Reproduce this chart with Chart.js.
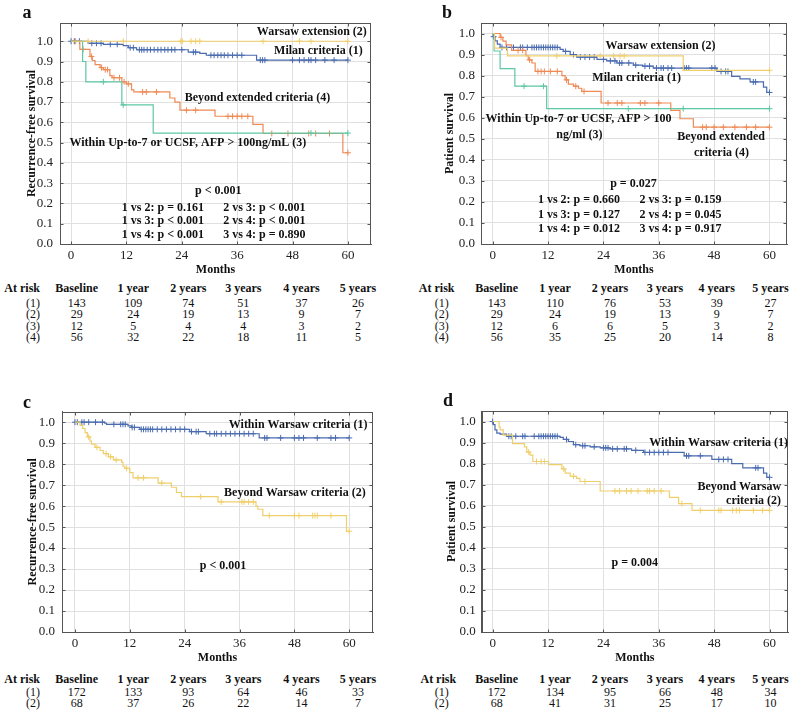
<!DOCTYPE html>
<html>
<head>
<meta charset="utf-8">
<script src="https://cdn.jsdelivr.net/npm/chart.js@4.4.1/dist/chart.umd.min.js"></script>
<style>
body { margin:0; background:#fff; width:793px; height:712px; position:relative; overflow:hidden; font-family:'Liberation Serif','Times New Roman',serif; color:#111; }
canvas { position:absolute; }
.t { position:absolute; font-size:12px; white-space:nowrap; transform:translate(-50%,-50%); line-height:1; }
.b { font-weight:bold; }
.letter { position:absolute; font-weight:bold; font-size:18px; transform:translate(-50%,-50%); line-height:1; }
</style>
</head>
<body>
<canvas id="cA" width="395" height="278" style="left:0;top:0"></canvas>
<canvas id="cB" width="393" height="278" style="left:400px;top:0"></canvas>
<canvas id="cC" width="395" height="281" style="left:0;top:385px"></canvas>
<canvas id="cD" width="393" height="281" style="left:400px;top:385px"></canvas>
<div class="letter" style="left:27px;top:12px">a</div>
<div class="letter" style="left:447px;top:12px">b</div>
<div class="letter" style="left:27px;top:402px">c</div>
<div class="letter" style="left:448px;top:400px">d</div>
<script>
var monthTicks = [0, 12, 24, 36, 48, 60];
var survTicks = [0, 0.1, 0.2, 0.3, 0.4, 0.5, 0.6, 0.7, 0.8, 0.9, 1.0];
var yearCols = ["Baseline", "1 year", "2 years", "3 years", "4 years", "5 years"];
var groupLabels = ["(1)", "(2)", "(3)", "(4)"];

// panel a - recurrence-free survival, 4 groups
var aMilanT = [0, 3.7, 7.0, 11.3, 12.4, 14.2, 25.4, 27.9, 29.3, 40.2, 60];
var aMilanS = [1, 0.99, 0.985, 0.978, 0.968, 0.958, 0.946, 0.94, 0.931, 0.907, 0.907];
var aMilanC = [0, 0.7, 1.8, 4.5, 5.5, 6.5, 8.5, 10, 12.8, 13.5, 14.8, 15.3, 15.8, 16.5, 17.2, 18, 18.8, 19.5, 20.3, 21, 21.8, 22.5, 24, 26.5, 27, 30.3, 31, 31.8, 32.5, 33.2, 34, 35, 36, 37, 41, 41.5, 42, 48, 49.5, 50.5, 51.5, 52, 53, 55, 57, 60];
var aWarsawT = [0, 60];
var aWarsawS = [1, 1];
var aWarsawC = [3.7, 11.3, 23.8, 24.1, 26, 27, 27.9, 41.6, 49.5, 52, 60];
var aUpT = [0, 2.5, 3.2, 11.0, 17.8, 60];
var aUpS = [1, 0.9, 0.8, 0.686, 0.547, 0.547];
var aUpC = [7.0, 11.3, 52, 60];
var aBeyondT = [0, 1.9, 4.1, 4.6, 5.2, 6.3, 7.0, 8.4, 8.9, 11.0, 12.0, 13.1, 13.6, 21.4, 22.5, 23.6, 31.2, 39.4, 41.6, 58.9, 60];
var aBeyondS = [1, 0.96, 0.925, 0.905, 0.885, 0.87, 0.86, 0.83, 0.82, 0.80, 0.79, 0.76, 0.75, 0.72, 0.70, 0.66, 0.63, 0.59, 0.545, 0.45, 0.45];
var aBeyondC = [1.0, 2.6, 4.4, 6.6, 7.4, 7.9, 9.3, 10.5, 11.5, 12.4, 15.5, 16.3, 18.5, 25, 27, 34, 35, 36, 37, 38.3, 43.5, 47, 51.5, 53, 56, 60];
var riskA = [[143, 109, 74, 51, 37, 26], [29, 24, 19, 13, 9, 7], [12, 5, 4, 4, 3, 2], [56, 32, 22, 18, 11, 5]];

// panel b - patient survival, 4 groups
var bMilanT = [0, 0.1, 0.5, 1.0, 1.6, 14.6, 15.3, 16.8, 18.2, 22.6, 24.7, 26.9, 30.5, 32.5, 34.8, 48.6, 51.8, 53.6, 55.8, 58.7, 59.4, 60];
var bMilanS = [1, 0.985, 0.965, 0.95, 0.934, 0.925, 0.915, 0.90, 0.888, 0.877, 0.87, 0.86, 0.85, 0.845, 0.836, 0.82, 0.796, 0.785, 0.77, 0.745, 0.72, 0.72];
var bMilanC = [0.2, 2, 3, 4.5, 6, 6.5, 7.5, 8.5, 9, 9.5, 10, 10.5, 11, 11.5, 12, 12.5, 13, 13.5, 14, 15.8, 17.5, 19, 20, 21, 22, 24, 25.5, 26.5, 27.5, 28, 29.5, 31, 33, 34, 35.5, 36.5, 37, 38, 38.8, 41.5, 42, 42.5, 47.5, 48.2, 49.5, 50.5, 51, 56.5, 57, 60];
var bWarsawT = [0, 0.4, 3.2, 41.3, 60];
var bWarsawS = [1, 0.931, 0.894, 0.825, 0.825];
var bWarsawC = [13.9, 23.3, 26.2, 27.6, 28.5, 60];
var bUpT = [0, 0.3, 1.6, 4.8, 11.7, 60];
var bUpS = [1, 0.917, 0.833, 0.75, 0.643, 0.643];
var bUpC = [6.8, 11.0, 29.4, 41.3, 60];
var bBeyondT = [0, 1.6, 2.2, 2.9, 4.1, 7.2, 7.7, 8.5, 9.2, 15.0, 15.7, 16.4, 17.5, 18.6, 19.3, 23.5, 38.6, 40.6, 43.5, 60];
var bBeyondS = [1, 0.982, 0.964, 0.946, 0.92, 0.895, 0.875, 0.86, 0.82, 0.80, 0.78, 0.76, 0.75, 0.74, 0.725, 0.67, 0.635, 0.595, 0.555, 0.555];
var bBeyondC = [1.8, 5.5, 6.5, 8, 9.8, 10.5, 11.2, 12.5, 14, 16, 18, 19.8, 25, 27, 28, 32, 33, 36, 45.5, 46.3, 48, 50, 52.5, 55, 57, 60];
var riskB = [[143, 110, 76, 53, 39, 27], [29, 24, 19, 13, 9, 7], [12, 6, 6, 5, 3, 2], [56, 35, 25, 20, 14, 8]];

// panel c - recurrence-free survival, Warsaw criteria
var cWithinT = [0, 6.5, 6.9, 11.6, 12.4, 14.2, 25.1, 28.7, 40.3, 60];
var cWithinS = [1, 0.995, 0.99, 0.982, 0.975, 0.966, 0.955, 0.945, 0.925, 0.925];
var cWithinC = [0, 0.5, 1.5, 2, 3, 4.5, 6, 8.5, 10, 10.5, 11, 12.5, 13, 14.5, 15, 15.5, 16, 16.5, 17, 18, 19, 20, 21, 22, 23, 24, 25.5, 26.5, 27, 29.5, 30.5, 31, 32, 33, 34, 35, 36, 37, 38, 39, 41.5, 42, 45, 48, 49, 50, 53, 56, 57, 60];
var cBeyondT = [0, 1.1, 1.7, 2.2, 2.7, 3.3, 3.6, 4.4, 5.5, 6.2, 7.3, 8.4, 10.2, 10.5, 10.9, 12.0, 12.7, 18.2, 21.1, 22.2, 23.3, 31.3, 39.6, 40.0, 41.1, 59.4, 60];
var cBeyondS = [1, 0.985, 0.97, 0.95, 0.93, 0.91, 0.895, 0.88, 0.865, 0.85, 0.835, 0.82, 0.81, 0.79, 0.78, 0.76, 0.735, 0.71, 0.69, 0.665, 0.645, 0.62, 0.60, 0.585, 0.555, 0.48, 0.48];
var cBeyondC = [3, 4.8, 6.8, 7.8, 9, 11.3, 13.8, 15, 19, 27.5, 32, 36.5, 37, 38, 39, 42.5, 48, 49, 52, 52.5, 53, 56, 60];
var riskC = [[172, 133, 93, 64, 46, 33], [68, 37, 26, 22, 14, 7]];

// panel d - patient survival, Warsaw criteria
var dWithinT = [0, 0.15, 0.5, 0.9, 1.6, 3.0, 14.6, 15.3, 16.4, 17.5, 18.9, 21.1, 23.3, 25.4, 30.1, 32.7, 41.5, 47.5, 51.8, 54.2, 58.7, 59.4, 60];
var dWithinS = [1, 0.985, 0.96, 0.945, 0.94, 0.93, 0.925, 0.915, 0.905, 0.89, 0.885, 0.88, 0.875, 0.87, 0.863, 0.853, 0.837, 0.82, 0.80, 0.78, 0.755, 0.735, 0.735];
var dWithinC = [0, 3.5, 4, 5, 6.5, 7, 9, 10, 10.5, 11, 11.5, 12, 12.5, 13, 13.5, 14, 16, 18, 19.5, 20, 22, 24, 24.5, 25, 26, 27, 28.5, 29, 31, 33, 34, 35, 36, 37, 38, 42, 42.5, 45, 49, 50, 51, 57, 57.5, 60];
var dBeyondT = [0, 1.4, 1.6, 2.3, 4.3, 6.9, 7.4, 8.1, 8.7, 12.1, 15.0, 15.7, 16.8, 18.2, 18.9, 23.3, 38.3, 40.3, 43.2, 60];
var dBeyondS = [1, 0.975, 0.96, 0.935, 0.895, 0.88, 0.855, 0.84, 0.81, 0.795, 0.775, 0.755, 0.74, 0.73, 0.715, 0.67, 0.64, 0.61, 0.578, 0.578];
var dBeyondC = [7.8, 9.5, 10.5, 11.2, 15.4, 17.5, 20, 26.5, 27.5, 29, 30, 31.5, 33.5, 34, 35, 36.5, 41, 45, 49, 49.5, 52, 52.8, 53.5, 56.5, 58.5, 60];
var riskD = [[172, 134, 95, 66, 48, 34], [68, 41, 31, 25, 17, 10]];

var blue = "#4a6bb0", orange = "#ee8a55", green = "#5ec7a5", yellow = "#efcf6b";
var serif = "'Liberation Serif', 'Times New Roman', serif";
Chart.defaults.font.family = serif;
Chart.defaults.font.size = 13;
Chart.defaults.color = "#222";

function survAt(t, times, surv) {
  var v = surv[0];
  for (var i = 0; i < times.length; i++) {
    if (times[i] <= t) v = surv[i];
  }
  return v;
}

// frame, small inner tick marks and the text labels inside the plot
var notesPlugin = {
  id: "notes",
  afterDraw: function(chart, args, opts) {
    var ctx = chart.ctx, a = chart.chartArea, sx = chart.scales.x, sy = chart.scales.y;
    ctx.save();
    ctx.strokeStyle = "#555";
    ctx.lineWidth = 1;
    var l = Math.round(a.left) + 0.5, r = Math.round(a.right) - 0.5, t = Math.round(a.top) + 0.5, b = Math.round(a.bottom) + 0.5;
    ctx.strokeRect(l, t, r - l, b - t);
    ctx.beginPath();
    monthTicks.forEach(function(v) {
      var x = Math.round(sx.getPixelForValue(v)) + 0.5;
      ctx.moveTo(x, b); ctx.lineTo(x, b - 3);
      ctx.moveTo(x, t); ctx.lineTo(x, t + 3);
    });
    survTicks.forEach(function(v) {
      var y = Math.round(sy.getPixelForValue(v)) + 0.5;
      ctx.moveTo(l, y); ctx.lineTo(l + 3, y);
      ctx.moveTo(r, y); ctx.lineTo(r - 3, y);
    });
    ctx.stroke();
    ctx.fillStyle = "#111";
    ctx.font = "bold 12px " + serif;
    ctx.textBaseline = "middle";
    (opts.items || []).forEach(function(n) {
      ctx.textAlign = n.align || "left";
      ctx.fillText(n.text, sx.getPixelForValue(n.x), sy.getPixelForValue(n.y));
    });
    ctx.restore();
  }
};

function kmChart(id, box, curves, notes, yTitle) {
  var ds = [];
  curves.forEach(function(c) {
    ds.push({
      type: "line",
      data: c.t.map(function(t, i) { return {x: t, y: c.s[i]}; }),
      stepped: true, borderColor: c.color, borderWidth: 1.2, pointRadius: 0, fill: false
    });
    ds.push({
      type: "scatter",
      data: c.c.map(function(t) { return {x: t, y: survAt(t, c.t, c.s)}; }),
      pointStyle: "cross", pointRadius: 3, borderColor: c.color, borderWidth: 1, showLine: false
    });
  });
  new Chart(id, {
    type: "line",
    data: {datasets: ds},
    plugins: [notesPlugin],
    options: {
      responsive: false, animation: false, devicePixelRatio: 1,
      layout: {padding: {top: box.pt, right: box.pr, left: 0, bottom: 0}},
      plugins: {legend: {display: false}, tooltip: {enabled: false}, notes: {items: notes}},
      scales: {
        x: {
          type: "linear", min: box.xmin, max: box.xmax,
          afterBuildTicks: function(s) { s.ticks = monthTicks.map(function(v) { return {value: v}; }); },
          afterFit: function(s) { s.height = box.xh; },
          grid: {color: "#e0e0e0", drawTicks: false},
          border: {color: "#555"},
          ticks: {padding: 4, color: "#222"},
          title: {display: true, text: "Months", color: "#111", font: {size: 12, weight: "bold"}, padding: {top: 0, bottom: box.xtp}}
        },
        y: {
          min: 0, max: box.ymax,
          afterBuildTicks: function(s) { s.ticks = survTicks.map(function(v) { return {value: v}; }); },
          afterFit: function(s) { s.width = box.yw; },
          grid: {color: "#e0e0e0", drawTicks: false},
          border: {color: "#555"},
          ticks: {padding: box.yp, color: "#222", callback: function(v) { return v.toFixed(1); }},
          title: {display: true, text: yTitle, color: "#111", font: {size: 12, weight: "bold"}, padding: {top: box.ytp, bottom: 0}}
        }
      }
    }
  });
}

kmChart("cA", {pt: 23, pr: 24, yw: 60, xh: 34, xmin: -2.4, xmax: 65.0, ymax: 1.09, xtp: 0.8, ytp: 24.8, yp: 7}, [
  {t: aWarsawT, s: aWarsawS, c: aWarsawC, color: yellow},
  {t: aUpT, s: aUpS, c: aUpC, color: green},
  {t: aBeyondT, s: aBeyondS, c: aBeyondC, color: orange},
  {t: aMilanT, s: aMilanS, c: aMilanC, color: blue}
], [
  {text: "Warsaw extension (2)", x: 64.1, y: 1.046, align: "right"},
  {text: "Milan criteria (1)", x: 63.2, y: 0.952, align: "right"},
  {text: "Beyond extended criteria (4)", x: 40.4, y: 0.722, align: "center"},
  {text: "Within Up-to-7 or UCSF, AFP > 100ng/mL (3)", x: 25.3, y: 0.50, align: "center"},
  {text: "p < 0.001", x: 31.9, y: 0.263, align: "center"},
  {text: "1 vs 2: p = 0.161", x: 11, y: 0.18},
  {text: "2 vs 3: p < 0.001", x: 33, y: 0.18},
  {text: "1 vs 3: p < 0.001", x: 11, y: 0.115},
  {text: "2 vs 4: p < 0.001", x: 33, y: 0.115},
  {text: "1 vs 4: p < 0.001", x: 11, y: 0.046},
  {text: "3 vs 4: p = 0.890", x: 33, y: 0.046}
], "Recurrence-free survival");

kmChart("cB", {pt: 23, pr: 6, yw: 81, xh: 34, xmin: -2.54, xmax: 63.8, ymax: 1.05, xtp: 0.8, ytp: 42.8, yp: 6}, [
  {t: bWarsawT, s: bWarsawS, c: bWarsawC, color: yellow},
  {t: bUpT, s: bUpS, c: bUpC, color: green},
  {t: bBeyondT, s: bBeyondS, c: bBeyondC, color: orange},
  {t: bMilanT, s: bMilanS, c: bMilanC, color: blue}
], [
  {text: "Warsaw extension (2)", x: 36.4, y: 0.939, align: "center"},
  {text: "Milan criteria (1)", x: 31.2, y: 0.791, align: "center"},
  {text: "Within Up-to-7 or UCSF, AFP > 100", x: 18.6, y: 0.593, align: "center"},
  {text: "ng/ml (3)", x: 18.8, y: 0.519, align: "center"},
  {text: "Beyond extended", x: 49.5, y: 0.508, align: "center"},
  {text: "criteria (4)", x: 49.6, y: 0.432, align: "center"},
  {text: "p = 0.027", x: 30.5, y: 0.286, align: "center"},
  {text: "1 vs 2: p = 0.660", x: 9.8, y: 0.2075},
  {text: "2 vs 3: p = 0.159", x: 31.8, y: 0.2075},
  {text: "1 vs 3: p = 0.127", x: 9.8, y: 0.137},
  {text: "2 vs 4: p = 0.045", x: 31.8, y: 0.137},
  {text: "1 vs 4: p = 0.012", x: 9.8, y: 0.071},
  {text: "3 vs 4: p = 0.917", x: 31.8, y: 0.071}
], "Patient survival");

kmChart("cC", {pt: 26.7, pr: 22, yw: 62, xh: 34, xmin: -2.84, xmax: 65.2, ymax: 1.05, xtp: 0.5, ytp: 25.8, yp: 7}, [
  {t: cBeyondT, s: cBeyondS, c: cBeyondC, color: yellow},
  {t: cWithinT, s: cWithinS, c: cWithinC, color: blue}
], [
  {text: "Within Warsaw criteria (1)", x: 64.0, y: 0.987, align: "right"},
  {text: "Beyond Warsaw criteria (2)", x: 63.6, y: 0.664, align: "right"},
  {text: "p < 0.001", x: 32.4, y: 0.315, align: "center"}
], "Recurrence-free survival");

kmChart("cD", {pt: 26, pr: 1, yw: 81.7, xh: 34, xmin: -2.38, xmax: 64.0, ymax: 1.05, xtp: 0.5, ytp: 44.5, yp: 6}, [
  {t: dBeyondT, s: dBeyondS, c: dBeyondC, color: yellow},
  {t: dWithinT, s: dWithinS, c: dWithinC, color: blue}
], [
  {text: "Within Warsaw criteria (1)", x: 64.0, y: 0.898, align: "right"},
  {text: "Beyond Warsaw", x: 62.5, y: 0.689, align: "right"},
  {text: "criteria (2)", x: 62.5, y: 0.624, align: "right"},
  {text: "p = 0.004", x: 30.8, y: 0.33, align: "center"}
], "Patient survival");

// at-risk tables
function addText(txt, x, y, bold) {
  var d = document.createElement("div");
  d.className = "t" + (bold ? " b" : "");
  d.style.left = x + "px";
  d.style.top = y + "px";
  d.textContent = txt;
  document.body.appendChild(d);
}
function riskTable(rows, headX, labelX, colX, headY, rowY) {
  addText("At risk", headX, headY, true);
  yearCols.forEach(function(c, i) { addText(c, colX[i], headY, true); });
  rows.forEach(function(r, j) {
    addText(groupLabels[j], labelX, rowY[j], false);
    r.forEach(function(v, i) { addText(String(v), colX[i], rowY[j], false); });
  });
}
var leftCols = [76.7, 133.3, 188.3, 243.3, 301.5, 358];
var rightCols = [496.7, 555, 610, 665, 716.7, 770.5];
riskTable(riskA, 22.2, 33, leftCols, 288, [303.3, 314.3, 325.5, 337.3]);
riskTable(riskB, 436.7, 441.7, rightCols, 288, [303.3, 314.3, 325.5, 337.3]);
riskTable(riskC, 22.2, 33, leftCols, 679.3, [691.7, 702.7]);
riskTable(riskD, 438.3, 441.7, rightCols, 679.3, [691.7, 702.7]);
</script>
</body>
</html>
